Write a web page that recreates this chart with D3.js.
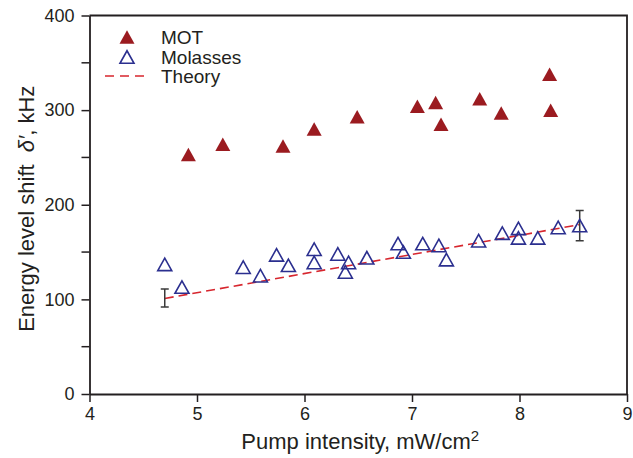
<!DOCTYPE html>
<html>
<head>
<meta charset="utf-8">
<script src="https://cdn.jsdelivr.net/npm/d3@7"></script>
<style>
  body { margin: 0; background: #fff; }
  svg text { font-family: "Liberation Sans", Arial, Helvetica, sans-serif; fill: #231f20; }
</style>
</head>
<body>
<div id="chart"></div>
<script>
// Chart data
const motX = [4.92, 5.24, 5.80, 6.09, 6.49, 7.05, 7.22, 7.27, 7.63, 7.83, 8.28, 8.29];
const motY = [253, 264, 262, 280, 293, 304, 308, 285, 312, 297, 338, 300];

const molX = [4.70, 4.86, 5.43, 5.59, 5.74, 5.85, 6.09, 6.09, 6.31, 6.38, 6.41, 6.58,
              6.87, 6.92, 7.10, 7.25, 7.32, 7.62, 7.84, 7.99, 7.99, 8.17, 8.36, 8.56];
const molY = [137, 113, 134, 125, 147, 136, 153, 139, 148, 129, 139, 144,
              159, 150, 159, 157, 142, 162, 170, 175, 165, 165, 176, 178];

const theoryX = [4.70, 8.56];
const theoryY = [101, 179];

const errX = [4.70, 8.56];
const errLo = [92, 162];
const errHi = [111, 194];

const xTicks = [4, 5, 6, 7, 8, 9];
const yTicks = [0, 100, 200, 300, 400];
const yMinor = [50, 150, 250, 350];

const width = 633;
const height = 458;
const margin = { top: 15.5, right: 6, bottom: 64, left: 89.5 };

const svg = d3.select('#chart')
    .append('svg')
    .attr('width', width)
    .attr('height', height);

const x = d3.scaleLinear().domain([4, 9]).range([margin.left, width - margin.right]);
const y = d3.scaleLinear().domain([0, 400]).range([height - margin.bottom, margin.top]);

const ink = '#231f20';

// Frame (top and right lines)
svg.append('path')
    .attr('d', `M${x(4)},${y(400)}H${x(9)}V${y(0)}`)
    .attr('fill', 'none')
    .attr('stroke', ink)
    .attr('stroke-width', 1.8);

// Bottom axis
const xAxis = svg.append('g')
    .attr('transform', `translate(0,${y(0)})`)
    .call(d3.axisBottom(x).tickValues(xTicks).tickFormat(d3.format('d'))
        .tickSize(8).tickPadding(5).tickSizeOuter(0));

// Left axis
const yAxis = svg.append('g')
    .attr('transform', `translate(${x(4)},0)`)
    .call(d3.axisLeft(y).tickValues(yTicks).tickFormat(d3.format('d'))
        .tickSize(8).tickPadding(7).tickSizeOuter(0));

// Minor ticks on y
yAxis.selectAll('.minor')
    .data(yMinor)
    .enter()
    .append('line')
    .attr('class', 'minor')
    .attr('x1', 0)
    .attr('x2', -8)
    .attr('y1', d => y(d))
    .attr('y2', d => y(d));

[xAxis, yAxis].forEach(g => {
    g.select('.domain').attr('stroke', ink).attr('stroke-width', 1.8);
    g.selectAll('line').attr('stroke', ink).attr('stroke-width', 1.5);
    g.selectAll('text').attr('font-size', 18).attr('fill', ink)
        .style('font-family', '"Liberation Sans", Arial, sans-serif');
});

// Axis titles
const xTitle = svg.append('text')
    .attr('x', (x(4) + x(9)) / 2 + 2)
    .attr('y', 449)
    .attr('text-anchor', 'middle')
    .attr('font-size', 22);
xTitle.append('tspan').text('Pump intensity, mW/cm');
xTitle.append('tspan').attr('font-size', 15).attr('dy', -8).text('2');

const yTitle = svg.append('text')
    .attr('transform', `translate(34,${(y(0) + y(400)) / 2 + 4}) rotate(-90)`)
    .attr('text-anchor', 'middle')
    .attr('font-size', 22);
yTitle.append('tspan').text('Energy level shift\u00a0 ');
yTitle.append('tspan').attr('font-style', 'italic').text('\u03b4\u2032');
yTitle.append('tspan').text(', kHz');

// Triangle marker path centred on its bounding box
function tri(cx, cy, w, h) {
    return `M${cx},${cy - h / 2}L${cx + w / 2},${cy + h / 2}L${cx - w / 2},${cy + h / 2}Z`;
}

// Theory line
const line = d3.line().x(d => x(d[0])).y(d => y(d[1]));
svg.append('path')
    .datum(d3.zip(theoryX, theoryY))
    .attr('d', line)
    .attr('fill', 'none')
    .attr('stroke', '#d7262e')
    .attr('stroke-width', 1.6)
    .attr('stroke-dasharray', '9,5');

// Error bars
const errData = d3.zip(errX, errLo, errHi);
const errG = svg.append('g').attr('stroke', '#3a3a3a').attr('stroke-width', 1.5);
errG.selectAll('.eb')
    .data(errData)
    .enter()
    .append('path')
    .attr('fill', 'none')
    .attr('d', d => `M${x(d[0]) - 4},${y(d[1])}H${x(d[0]) + 4}M${x(d[0])},${y(d[1])}V${y(d[2])}M${x(d[0]) - 4},${y(d[2])}H${x(d[0]) + 4}`);

// Molasses (open triangles)
svg.append('g')
    .selectAll('path')
    .data(d3.zip(molX, molY))
    .enter()
    .append('path')
    .attr('d', d => tri(x(d[0]), y(d[1]), 14, 12.5))
    .attr('fill', 'none')
    .attr('stroke', '#2b2f8f')
    .attr('stroke-width', 1.6);

// MOT (filled triangles)
svg.append('g')
    .selectAll('path')
    .data(d3.zip(motX, motY))
    .enter()
    .append('path')
    .attr('d', d => tri(x(d[0]), y(d[1]), 15, 13.5))
    .attr('fill', '#9b1b20');

// Legend
const legend = svg.append('g');
legend.append('path').attr('d', tri(127, 37, 15, 13.5)).attr('fill', '#9b1b20');
legend.append('path').attr('d', tri(127, 57, 14, 12.5))
    .attr('fill', 'none').attr('stroke', '#2b2f8f').attr('stroke-width', 1.6);
legend.append('line')
    .attr('x1', 105).attr('x2', 150).attr('y1', 76).attr('y2', 76)
    .attr('stroke', '#d7262e').attr('stroke-width', 1.6).attr('stroke-dasharray', '9,6');

const legendLabels = ['MOT', 'Molasses', 'Theory'];
legend.selectAll('text')
    .data(legendLabels)
    .enter()
    .append('text')
    .attr('x', 161)
    .attr('y', (d, i) => 44 + i * 19.5)
    .attr('font-size', 19)
    .text(d => d);
</script>
</body>
</html>
